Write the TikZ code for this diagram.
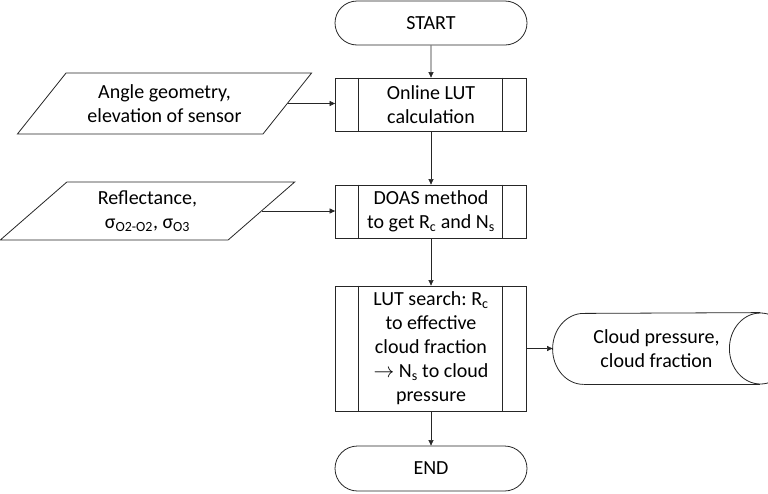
\documentclass[tikz,border=0pt]{standalone}
\usepackage{fontspec}
\setmainfont{Carlito}
\frenchspacing
\usepackage{tikz}
\usetikzlibrary{arrows.meta,shapes.misc,shapes.geometric}
\tikzset{
  base/.style={draw=black!85, line width=0.8pt, text=black, font=\fontsize{20}{24}\selectfont, align=center, inner sep=0pt},
  term/.style={base, rounded rectangle, minimum width=192pt, minimum height=44pt},
  proc/.style={base, rectangle, minimum width=191pt},
  inp/.style={base, trapezium, trapezium left angle=45, trapezium right angle=135, trapezium stretches=true, minimum width=295pt},
  store/.style={base, draw=none, rectangle, minimum width=207pt, minimum height=71pt},
  arr/.style={draw=black!85, line width=0.6pt, -{Triangle[length=5.5pt,width=5pt]}}
}

\begin{document}
\begin{tikzpicture}[x=1pt,y=-1pt]
                \useasboundingbox (0,0) rectangle (768,493);
                \clip (0,0) rectangle (768,493);

                %main column, define nodes first
                \node (start) at (431,23) [term]{START};
                \node (lutcalc) at (431,104.5) [proc, minimum height=53pt]{Online LUT\\calculation};
                \node (doas) at (431,211.5) [proc, minimum height=53pt]{DOAS method\\to get R\textsubscript{c} and N\textsubscript{s}};
                \node (lutsearch) at (431,348.5) [proc, minimum height=125pt]{LUT search: R\textsubscript{c}\\to effective\\cloud fraction\\$\rightarrow$ N\textsubscript{s} to cloud\\pressure};
                \node (stop) at (431,468.5) [term, minimum height=45pt]{END};

                %inner bars of the predefined processes
                \foreach \n in {lutcalc,doas,lutsearch}
                  \draw[black!85, line width=0.8pt] ([xshift=23.5pt]\n.north west) -- ([xshift=23.5pt]\n.south west)
                        ([xshift=-24.5pt]\n.north east) -- ([xshift=-24.5pt]\n.south east);

                %inputs on the left
                \node (geom) at (164.5,103.5) [inp, minimum height=61pt]{Angle geometry,\\elevation of sensor};
                \node (refl) at (147.5,211) [inp, minimum height=58pt]{Reflectance,\\σ\textsubscript{O2-O2}, σ\textsubscript{O3}};

                %output on the right, stored data drawn round the text
                \node (cloud) at (656.5,348.5) [store]{Cloud pressure,\\cloud fraction};
                \draw[black!85, line width=0.8pt] ([xshift=31pt]cloud.south west) arc[start angle=90, end angle=270, x radius=31, y radius=35.5]
                        -- (cloud.north east);
                \draw[black!85, line width=0.8pt] ([xshift=31pt]cloud.south west) -- (cloud.south east);
                \draw[black!85, line width=0.8pt] (cloud.east) ellipse[x radius=31, y radius=35.5];

                %connectors
                \draw[arr] (start) -- (lutcalc);
                \draw[arr] (lutcalc) -- (doas);
                \draw[arr] (doas) -- (lutsearch);
                \draw[arr] (lutsearch) -- (stop);
                \draw[arr] (geom.east) -- (geom.east -| lutcalc.west);
                \draw[arr] (refl.east) -- (refl.east -| doas.west);
                \draw[arr] (lutsearch.east) -- (cloud.west);
            \end{tikzpicture}
\end{document}
